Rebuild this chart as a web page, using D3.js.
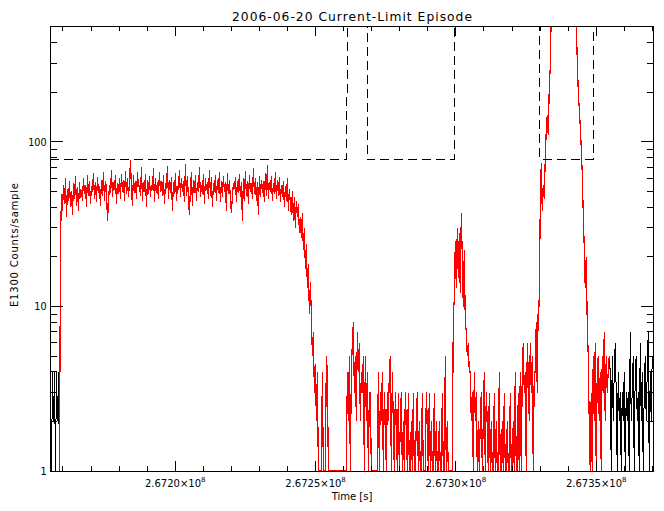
<!DOCTYPE html>
<html><head><meta charset="utf-8">
<script src="https://cdn.jsdelivr.net/npm/d3@7"></script>
<style>
body{margin:0;background:#fff}
svg{display:block}
text{font-family:"DejaVu Sans",sans-serif;fill:#000}
</style>
</head><body>
<svg id="c" width="664" height="511"></svg>
<script>
// ---- data ----
const sampleStart = 267155556;   // time of first sample [s]
const sampleStep = 356.13;       // sampling interval [s]
const counts = [
 3,1,4,2,4,1,4,2,4,1,
 25,48,38,55,42,60,35,52,44,58,
 40,50,36,56,45,62,41,53,38,57,
 46,51,44,60,48,55,40,63,47,58,
 42,54,50,65,45,57,43,61,49,54,
 41,59,47,66,44,58,52,33,43,55,
 49,68,46,57,51,63,42,56,48,60,
 45,64,50,59,44,67,48,60,46,56,
 78,52,41,63,49,58,45,66,53,55,
 47,70,44,57,50,64,40,59,48,62,
 46,55,51,69,43,60,49,57,45,66,
 50,58,47,63,42,56,52,71,45,59,
 49,61,38,57,48,65,44,54,51,68,
 46,60,50,58,43,73,47,62,45,36,
 52,66,41,59,49,63,44,57,50,70,
 46,55,48,64,42,60,51,57,45,68,
 47,61,40,56,50,63,44,59,49,66,
 43,58,46,62,50,57,38,65,48,59,
 45,37,47,56,52,61,43,58,49,64,
 46,57,33,60,44,67,47,58,42,63,
 50,56,45,69,48,60,44,57,36,62,
 46,59,49,58,43,65,47,72,45,57,
 50,62,44,56,48,66,45,59,47,61,
 43,55,46,58,40,54,44,60,38,52,
 42,36,50,33,46,30,44,35,42,28,
 35,26,37,22,30,17,24,13,18,9,
 14,9,5,7,3,4.5,2,4,1,1,
 1,1,4,1,1,1,5,4,1,1,
 1,1,1,1,1,1,1,1,1,1,
 1,1,1,1,1,1,1,4,2,5,
 1,4,6,8,3,5,2,7,4,6,
 2,4,3,5,1,5,2,4,1,3,
 3,1,1,1,1,1,1,1,4,1,
 3,2,4,1,3,2,1,3,2,4,
 5,1,4,2,1,3,2,1,3,1,
 2,3,1,2,1,3,2,1,3,1,
 1,2,1,3,1,1,2,3,1,2,
 1,1,3,1,1,1,3,2,1,3,
 1,2,1,1,3,1,2,1,1,2,
 1,1,3,1,1,5,1,2,1,1,
 1,1,1,9,11,25,13,30,15,28,
 12,37,20,10,22,8,7,5,6,4,
 4,2,3,1,4,2,3,1,2,1,
 2,3,1,2,4,1,3,2,1,3,
 1,2,1,1,3,1,2,1,1,4,
 1,1,2,1,3,1,1,2,1,1,
 3,1,1,2,1,4,1,1,3,1,
 4,1,4,6,3,4,1,6,4,2,
 6,3,5,1,4,4,8,3,11,10,
 42,75,38,55,45,80,118,146,110,212,
 285,600,700,800,900,1000,1000,1000,1000,1000,
 1100,1200,1150,1000,950,900,850,800,750,700,
 680,660,640,620,600,580,550,315,206,160,
 125,93,65,37,23,13,20,8,5,2,
 1,3,1,5,2,6,1,4,5,2,
 4,1,5,3,7,2,5,3,4,5,
 4,1,5,2,4,6,3,1,4,2,
 3,1,3,2,4,1,3,2,3,1,
 7,2,3,5,1,4,5,2,3,1,
 6,2,4,1,3,5,2,4,7,1,
 4,2,5
];
const episodeStart = 267158700;  // red-highlighted interval
const episodeEnd = 267354700;
const limitTimes  = [267155380, 267261040, 267261040, 267261400, 267261400, 267268380, 267268380, 267299430, 267299430, 267329880, 267329880, 267348860, 267348860, 267370230];
const limitValues = [78.5, 78.5, 193, 193, 5000, 5000, 78.5, 78.5, 5000, 5000, 78.5, 78.5, 5000, 5000];
const xDomain = [267155380, 267370230];
const yDomain = [1, 507];
const xMajorTicks = [267200000, 267250000, 267300000, 267350000];
const xTickMantissa = ["2.6720", "2.6725", "2.6730", "2.6735"];
const xTickExponent = "8";
const yMajorTicks = [1, 10, 100];
const yTickLabels = ["1", "10", "100"];
const yMinorTicks = [2,3,4,5,6,7,8,9,20,30,40,50,60,70,80,90,200,300,400,500];
const titleText = "2006-06-20 Current-Limit Episode";
const xTitle = "Time [s]";
const yTitle = "E1300 Counts/sample";

// ---- layout ----
const L = 50, R = 653, T = 26, B = 471;
const svg = d3.select("#c");
const x = d3.scaleLinear().domain(xDomain).range([L, R]);
const y = d3.scaleLog().domain(yDomain).range([B, T]);

const pts = counts.map((v, i) => ({t: sampleStart + i * sampleStep, v}));

svg.append("defs").append("clipPath").attr("id", "clip")
  .append("rect").attr("x", L).attr("y", T).attr("width", R - L).attr("height", B - T);

const line = d3.line().x(d => x(d.t)).y(d => y(Math.max(d.v, 0.5)));
const gData = svg.append("g").attr("clip-path", "url(#clip)").attr("shape-rendering", "crispEdges");

gData.append("path").datum(pts).attr("d", line)
  .attr("fill", "none").attr("stroke", "#000").attr("stroke-width", 1);
gData.append("path").datum(pts.filter(d => d.t >= episodeStart && d.t <= episodeEnd)).attr("d", line)
  .attr("fill", "none").attr("stroke", "#ff0000").attr("stroke-width", 1.2);

const limitPts = limitTimes.map((t, i) => ({t, v: limitValues[i]}));
gData.append("path").datum(limitPts).attr("d", line)
  .attr("fill", "none").attr("stroke", "#000").attr("stroke-width", 1)
  .attr("stroke-dasharray", "9,5");

// ---- axes ----
const gAx = svg.append("g").attr("stroke", "#000").attr("stroke-width", 1).attr("shape-rendering", "crispEdges");
gAx.append("rect").attr("x", L).attr("y", T).attr("width", R - L).attr("height", B - T).attr("fill", "none");

const xMinor = d3.range(267160000, 267370001, 10000).filter(t => !xMajorTicks.includes(t));
function xTick(t, len) {
  gAx.append("line").attr("x1", x(t)).attr("x2", x(t)).attr("y1", B).attr("y2", B - len);
  gAx.append("line").attr("x1", x(t)).attr("x2", x(t)).attr("y1", T).attr("y2", T + len);
}
xMinor.forEach(t => xTick(t, 5));
xMajorTicks.forEach(t => xTick(t, 10));
function yTick(v, len) {
  gAx.append("line").attr("x1", L).attr("x2", L + len).attr("y1", y(v)).attr("y2", y(v));
  gAx.append("line").attr("x1", R).attr("x2", R - len).attr("y1", y(v)).attr("y2", y(v));
}
yMinorTicks.forEach(v => yTick(v, 6.5));
yMajorTicks.forEach(v => yTick(v, 12.5));

// ---- labels ----
yMajorTicks.forEach((v, i) => {
  svg.append("text").attr("x", 46.5).attr("y", y(v) + 3.6)
    .attr("text-anchor", "end").attr("font-size", 9.6).text(yTickLabels[i]);
});
xMajorTicks.forEach((t, i) => {
  const tx = svg.append("text").attr("x", x(t)).attr("y", 486.7)
    .attr("text-anchor", "middle").attr("font-size", 10);
  tx.append("tspan").text(xTickMantissa[i] + "\u00d710");
  tx.append("tspan").attr("dy", -5).attr("font-size", 7).text(xTickExponent);
});
svg.append("text").attr("x", 352).attr("y", 499.5).attr("text-anchor", "middle")
  .attr("font-size", 10).text(xTitle);
svg.append("text").attr("transform", "translate(18.3,245) rotate(-90)")
  .attr("text-anchor", "middle").attr("font-size", 10)
  .attr("textLength", 124).attr("lengthAdjust", "spacing").text(yTitle);
svg.append("text").attr("x", 352).attr("y", 20.5).attr("text-anchor", "middle")
  .attr("font-size", 12.3).attr("textLength", 240).attr("lengthAdjust", "spacing").text(titleText);
</script>
</body></html>
